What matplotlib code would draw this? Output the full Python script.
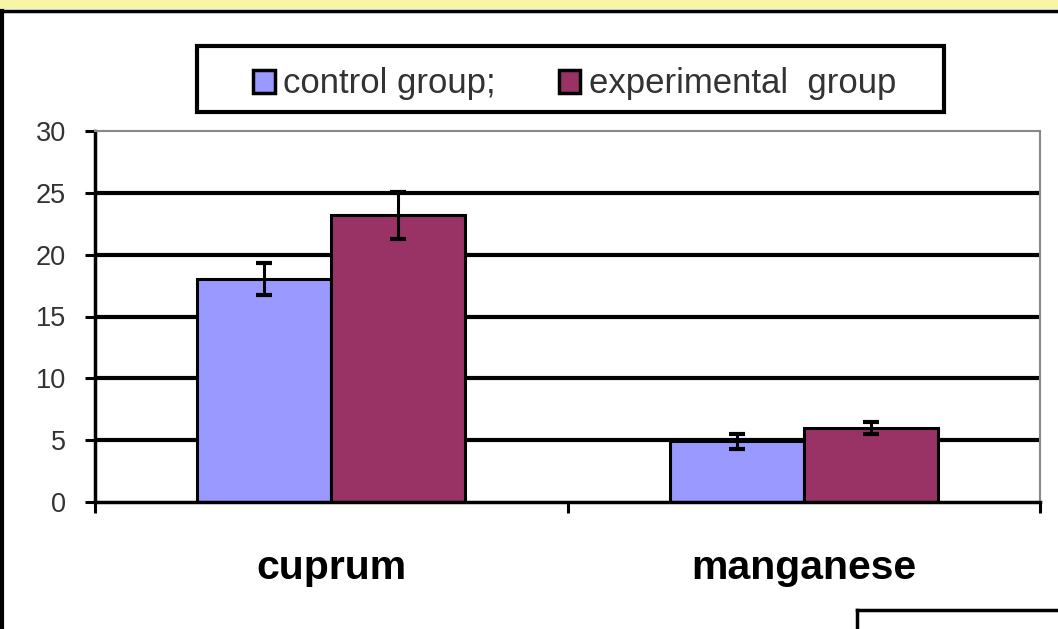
"""Bar chart with error bars: cuprum / manganese, control vs experimental group."""

import matplotlib
matplotlib.use("Agg")
import matplotlib.pyplot as plt
from matplotlib.patches import Patch, Rectangle
from matplotlib.lines import Line2D
import numpy as np

categories = ["cuprum", "manganese"]
series_names = ["control group;", "experimental  group"]
control = [18.0, 4.9]
control_err = [1.3, 0.6]
experimental = [23.2, 6.0]
experimental_err = [1.9, 0.5]
y_ticks = [0, 5, 10, 15, 20, 25, 30]

COLORS = ["#9999ff", "#993366"]

plt.rcParams["font.family"] = ["Liberation Sans", "DejaVu Sans"]

fig = plt.figure(figsize=(10.58, 6.29), dpi=100)
W, H = 1058, 629


def fx(px):
    return px / W


def fy(py):
    return 1 - py / H


# yellow band + frame lines of the original slide
fig.patches.append(Rectangle((0, fy(9)), 1, 9 / H, transform=fig.transFigure,
                             facecolor="#f6f6a6", edgecolor="none", zorder=0))
fig.lines.append(Line2D([0, 1], [fy(11), fy(11)], transform=fig.transFigure,
                        color="black", lw=2.5))
fig.lines.append(Line2D([fx(2), fx(2)], [fy(11), 0], transform=fig.transFigure,
                        color="black", lw=3))
fig.lines.append(Line2D([fx(857), 1], [fy(610), fy(610)], transform=fig.transFigure,
                        color="black", lw=2.5))
fig.lines.append(Line2D([fx(857), fx(857)], [fy(610), 0], transform=fig.transFigure,
                        color="black", lw=2.5))

ax = fig.add_axes([fx(95), fy(502), fx(1040) - fx(95), fy(131) - fy(502)])

x = np.arange(len(categories)) + 0.5
width = 0.284

for val in y_ticks[1:-1]:
    ax.axhline(val, color="black", lw=3, zorder=1)

err_kw = dict(ecolor="black", elinewidth=2.2, capsize=5.5, capthick=3)
ax.bar(x - width / 2, control, width, yerr=control_err, color=COLORS[0],
       edgecolor="black", linewidth=2.2, zorder=2, error_kw=err_kw)
ax.bar(x + width / 2, experimental, width, yerr=experimental_err, color=COLORS[1],
       edgecolor="black", linewidth=2.2, zorder=2, error_kw=err_kw)

ax.set_xlim(0, len(categories))
ax.set_ylim(0, 30)
ax.set_yticks(y_ticks)
ax.set_yticklabels([str(v) for v in y_ticks], fontsize=19.5, color="#333333")
ax.set_xticks(np.arange(len(categories) + 1))
ax.set_xticklabels([])
ax.set_xticks(x, minor=True)
ax.set_xticklabels(categories, minor=True, fontsize=29.5, fontweight="bold")
ax.tick_params(axis="y", length=7, width=2.2, pad=14, direction="out")
ax.tick_params(axis="x", which="major", length=8, width=2.2, direction="out")
ax.tick_params(axis="x", which="minor", length=0, pad=34)

for side in ["left", "bottom"]:
    ax.spines[side].set_linewidth(2.5)
    ax.spines[side].set_color("black")
for side in ["top", "right"]:
    ax.spines[side].set_linewidth(1.5)
    ax.spines[side].set_color("#888888")

# legend box
fig.patches.append(Rectangle((fx(197), fy(112)), fx(944) - fx(197), (112 - 46) / H,
                             transform=fig.transFigure, facecolor="white",
                             edgecolor="black", lw=3, zorder=3))
handles = [Patch(facecolor=c, edgecolor="black", linewidth=2.5) for c in COLORS]
leg = fig.legend(handles, series_names, loc="center",
                 bbox_to_anchor=((fx(197) + fx(944)) / 2 + 0.004, fy(84)),
                 ncol=2, frameon=False, fontsize=25, handlelength=0.62,
                 handleheight=0.62, handletextpad=0.25, columnspacing=1.8)
leg.set_zorder(4)
for t in leg.get_texts():
    t.set_color("#333333")

fig.savefig("out.png", dpi=100)
